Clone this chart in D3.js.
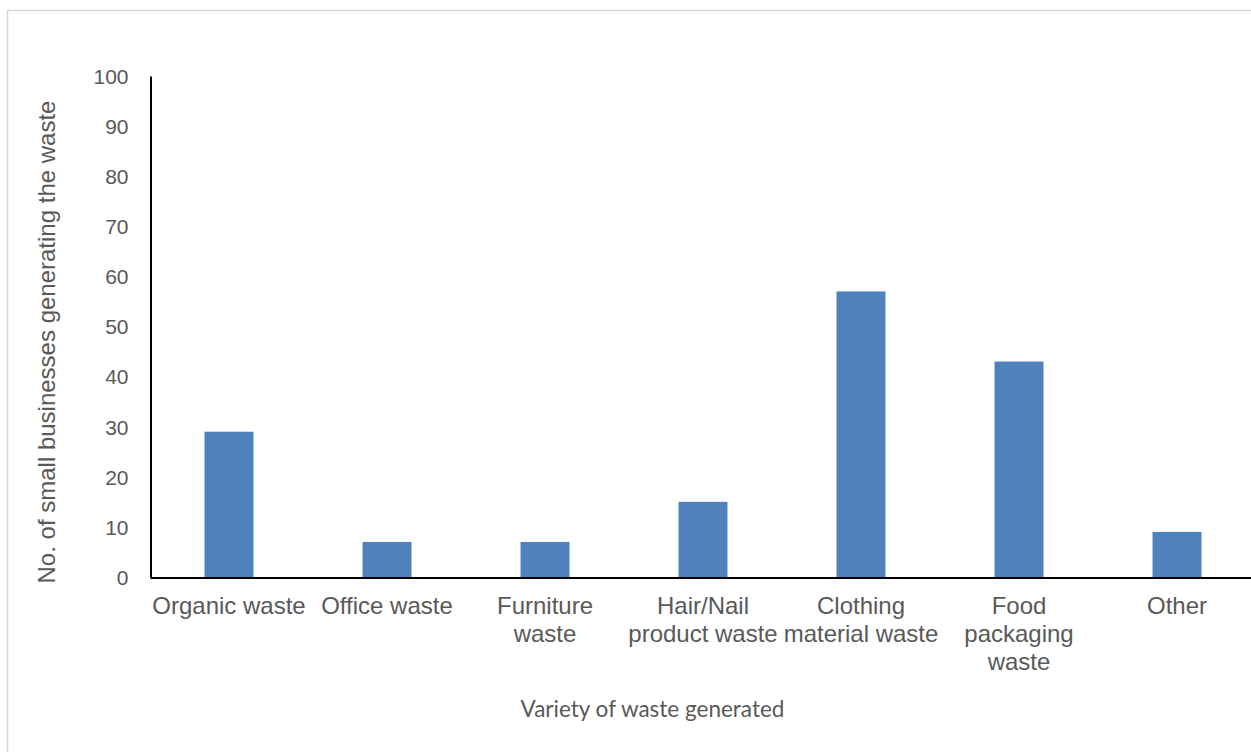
<!DOCTYPE html>
<html>
<head>
<meta charset="utf-8">
<script src="https://cdn.jsdelivr.net/npm/d3@7"></script>
<style>
  html, body { margin: 0; padding: 0; background: #fff; }
  svg { display: block; }
</style>
</head>
<body>
<svg id="chart" width="1251" height="752"></svg>
<script>
const categories = ["Organic waste", "Office waste", "Furniture waste", "Hair/Nail product waste", "Clothing material waste", "Food packaging waste", "Other"];
const tickLabelLines = [["Organic waste"], ["Office waste"], ["Furniture", "waste"], ["Hair/Nail", "product waste"], ["Clothing", "material waste"], ["Food", "packaging", "waste"], ["Other"]];
const values = [29, 7, 7, 15, 57, 43, 9];
const yTicks = [0, 10, 20, 30, 40, 50, 60, 70, 80, 90, 100];
const yTitle = "No. of small businesses generating the waste";
const xTitle = "Variety of waste generated";

const svg = d3.select("#chart");
const textColor = "#595959";

// outer border
svg.append("rect")
  .attr("x", 7.5).attr("y", 10.5)
  .attr("width", 1300).attr("height", 800)
  .attr("fill", "#fff")
  .attr("stroke", "#d9d9d9").attr("stroke-width", 1.5);

const x = d3.scaleBand().domain(categories).range([150, 1256]).padding(0);
const y = d3.scaleLinear().domain([0, 100]).range([577, 76]);
const barFrac = 0.31;

// bars
svg.append("g").selectAll("rect").data(values).join("rect")
  .attr("x", (d, i) => x(categories[i]) + x.bandwidth() * (1 - barFrac) / 2)
  .attr("width", x.bandwidth() * barFrac)
  .attr("y", d => y(d))
  .attr("height", d => y(0) - y(d))
  .attr("fill", "#4f81bd");

// y axis
const yAxis = svg.append("g").attr("transform", "translate(150.5,0)")
  .call(d3.axisLeft(y).tickValues(yTicks).tickSize(0).tickPadding(22));
yAxis.select(".domain").attr("stroke", "#000").attr("stroke-width", 2);
yAxis.selectAll("text")
  .attr("font-family", "Liberation Sans, Arial, sans-serif")
  .attr("font-size", 21).attr("fill", textColor).attr("dy", "0.35em");

// x axis
const xAxis = svg.append("g").attr("transform", "translate(0,577.5)")
  .call(d3.axisBottom(x).tickSize(0).tickFormat(""));
xAxis.select(".domain").attr("stroke", "#000").attr("stroke-width", 2);
xAxis.selectAll(".tick").each(function(d, i) {
  const t = d3.select(this).append("text")
    .attr("font-family", "Liberation Sans, Arial, sans-serif")
    .attr("font-size", 24).attr("fill", textColor)
    .attr("text-anchor", "middle");
  tickLabelLines[i].forEach((line, j) => {
    t.append("tspan").attr("x", 0).attr("y", 36.5 + j * 28).text(line);
  });
});

// y title
svg.append("text")
  .attr("transform", "translate(55,342) rotate(-90)")
  .attr("text-anchor", "middle")
  .attr("font-family", "Liberation Sans, Arial, sans-serif")
  .attr("font-size", 24).attr("fill", textColor)
  .text(yTitle);

// x title
svg.append("text")
  .attr("x", 652.5).attr("y", 717)
  .attr("text-anchor", "middle")
  .attr("font-family", "Lato, Carlito, Calibri, sans-serif")
  .attr("font-size", 22.5).attr("fill", textColor)
  .text(xTitle);
</script>
</body>
</html>
